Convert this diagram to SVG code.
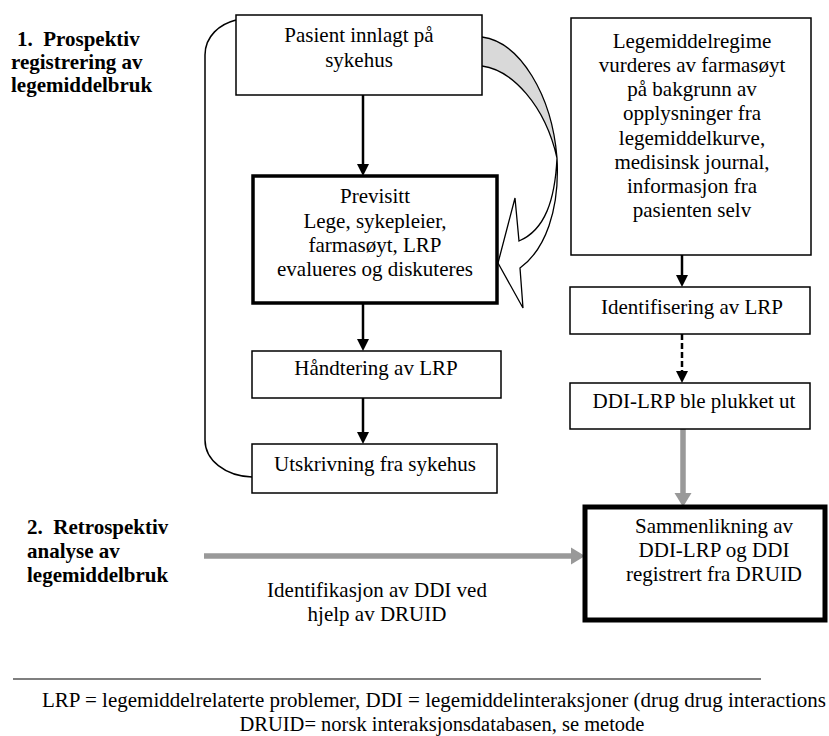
<svg xmlns="http://www.w3.org/2000/svg" width="829" height="736" viewBox="0 0 829 736">
<defs>
<style>
text{font-family:"Liberation Serif","Times New Roman",serif;font-size:21px;fill:#000}
.c{text-anchor:middle}
.b{font-weight:bold}
.box{fill:#fff;stroke:#000;stroke-width:1.5}
.thick{fill:#fff;stroke:#000;stroke-width:3.5}
.thicker{fill:#fff;stroke:#000;stroke-width:5}
.arr{stroke:#000;stroke-width:2.5;fill:none}
.garr{stroke:#999;stroke-width:5.5;fill:none}
.ah{fill:#000}
.gah{fill:#999}
.foot{font-size:20.5px}
</style>
</defs>
<g id="headings">
<text class="b" x="17" y="46">1.&#160; Prospektiv</text>
<text class="b" x="11" y="69">registrering av</text>
<text class="b" x="11" y="92">legemiddelbruk</text>
<text class="b" x="27" y="534">2.&#160; Retrospektiv</text>
<text class="b" x="27" y="558">analyse av</text>
<text class="b" x="27" y="582">legemiddelbruk</text>
</g>
<g id="connectors">
<path d="M236,20 C220,24 205,36 205,55 L205,440 C205,460 225,476 252,477" fill="none" stroke="#000" stroke-width="1.5"/>
<line class="arr" x1="363" y1="95" x2="363" y2="166"/>
<polygon class="ah" points="357,164 369,164 363,176"/>
<line class="arr" x1="363" y1="303" x2="363" y2="341"/>
<polygon class="ah" points="357,339 369,339 363,351"/>
<line class="arr" x1="363" y1="398" x2="363" y2="434"/>
<polygon class="ah" points="357,432 369,432 363,444"/>
<line class="arr" x1="682" y1="255" x2="682" y2="277"/>
<polygon class="ah" points="676,275 688,275 682,287"/>
<line class="arr" x1="682" y1="334" x2="682" y2="373" stroke-dasharray="6,3"/>
<polygon class="ah" points="676,371 688,371 682,383"/>
<line class="garr" x1="683" y1="429" x2="683" y2="494"/>
<polygon class="gah" points="674.5,493 691.5,493 683,507"/>
<line class="garr" x1="204" y1="556" x2="572" y2="556"/>
<polygon class="gah" points="571,547.5 571,564.5 585,556"/>
<g id="curved-arrow">
<path d="M482,37 C520,42 552,95 557,158 C560,210 545,250 520,268 L523,308 L498,263 L515,198 L519,241 C545,230 555,200 557,158 C545,105 512,70 482,66 Z" fill="#fff" stroke="none"/>
<path d="M482,37 C520,42 552,95 557,158 C545,105 512,70 482,66 Z" fill="#d9d9d9" stroke="none"/>
<path d="M482,37 C520,42 552,95 557,158 C560,210 545,250 520,268 L523,308 L498,263 L515,198 L519,241 C545,230 555,200 557,158 C545,105 512,70 482,66" fill="none" stroke="#000" stroke-width="1.3" stroke-linejoin="miter"/>
</g>
</g>
<g id="n-pasient">
<rect class="box" x="236" y="15" width="246" height="80"/>
<text class="c" x="359" y="42">Pasient innlagt på</text>
<text class="c" x="359" y="67">sykehus</text>
</g>
<g id="n-previsitt">
<rect class="thick" x="253" y="176" width="244" height="127"/>
<text class="c" x="375" y="203">Previsitt</text>
<text class="c" x="375" y="228">Lege, sykepleier,</text>
<text class="c" x="375" y="252">farmasøyt, LRP</text>
<text class="c" x="375" y="276">evalueres og diskuteres</text>
</g>
<g id="n-handtering">
<rect class="box" x="252" y="351" width="249" height="47"/>
<text class="c" x="376" y="375">Håndtering av LRP</text>
</g>
<g id="n-utskrivning">
<rect class="box" x="252" y="444" width="245" height="49"/>
<text class="c" x="375" y="471">Utskrivning fra sykehus</text>
</g>
<g id="n-legemiddelregime">
<rect class="box" x="571" y="18" width="240" height="237"/>
<text class="c" x="692" y="48">Legemiddelregime</text>
<text class="c" x="692" y="72">vurderes av farmasøyt</text>
<text class="c" x="692" y="96">på bakgrunn av</text>
<text class="c" x="692" y="120">opplysninger fra</text>
<text class="c" x="692" y="145">legemiddelkurve,</text>
<text class="c" x="692" y="169">medisinsk journal,</text>
<text class="c" x="692" y="193">informasjon fra</text>
<text class="c" x="692" y="217">pasienten selv</text>
</g>
<g id="n-identifisering">
<rect class="box" x="570" y="287" width="240" height="47"/>
<text class="c" x="692" y="314">Identifisering av LRP</text>
</g>
<g id="n-ddilrp">
<rect class="box" x="570" y="383" width="240" height="46"/>
<text class="c" x="694" y="408">DDI-LRP ble plukket ut</text>
</g>
<g id="n-sammenlikning">
<rect class="thicker" x="585" y="507" width="240" height="113"/>
<text class="c" x="714" y="533">Sammenlikning av</text>
<text class="c" x="714" y="557">DDI-LRP og DDI</text>
<text class="c" x="714" y="581">registrert fra DRUID</text>
</g>
<g id="label-druid">
<text class="c" x="377" y="597">Identifikasjon av DDI ved</text>
<text class="c" x="377" y="621">hjelp av DRUID</text>
</g>
<g id="footer">
<line x1="13" y1="679" x2="761" y2="679" stroke="#000" stroke-width="1.2"/>
<text class="foot" x="42" y="707" textLength="784" lengthAdjust="spacingAndGlyphs">LRP = legemiddelrelaterte problemer, DDI = legemiddelinteraksjoner (drug drug interactions</text>
<text class="c foot" x="442" y="731">DRUID= norsk interaksjonsdatabasen, se metode</text>
</g>
</svg>
